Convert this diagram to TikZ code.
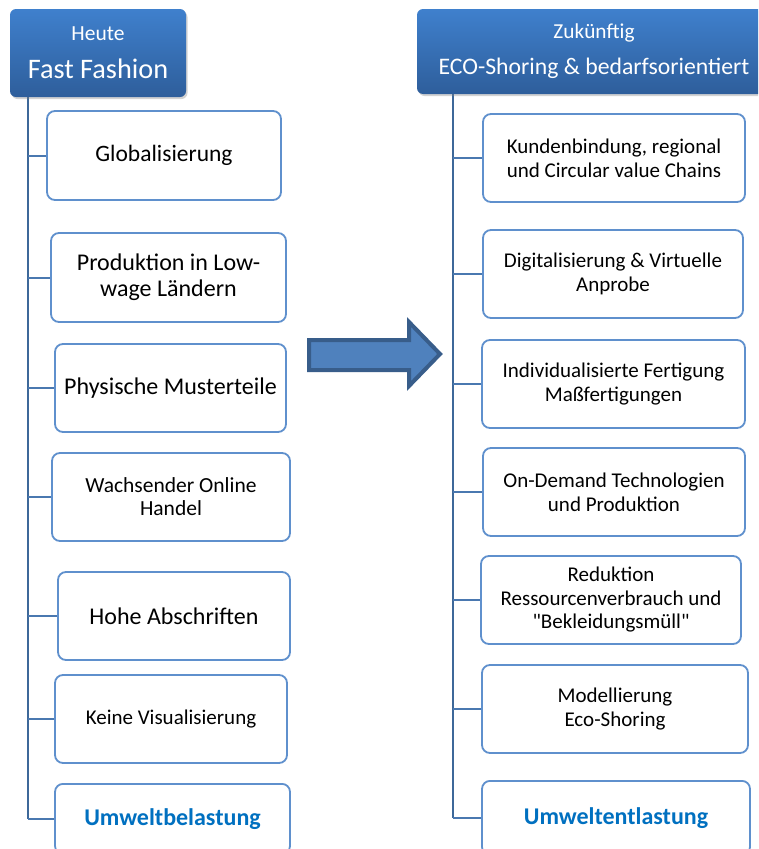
\documentclass[tikz,border=0pt]{standalone}
\usepackage{fontspec}
\setmainfont{Carlito}
% same family without the TeX quote mapping, for straight quotes
\newfontfamily\rawfont{Carlito}
\usetikzlibrary{shadows}
\definecolor{headtop}{HTML}{3F80CD}
\definecolor{headbot}{HTML}{2E5E9B}
\definecolor{boxline}{HTML}{5F90CD}
\definecolor{treeline}{HTML}{3D6899}
\definecolor{branchline}{HTML}{4A78B0}
\definecolor{arrowfill}{HTML}{4F81BD}
\definecolor{arrowline}{HTML}{385D8A}
\definecolor{accent}{HTML}{0070C0}
\tikzset{
  head/.style={rounded corners=6pt, top color=headtop, bottom color=headbot,
    text=white, align=center, inner sep=0pt,
    drop shadow={opacity=0.35, shadow xshift=1.5pt, shadow yshift=-2pt}},
  itembox/.style={draw=boxline, line width=1.8pt, rounded corners=8pt, fill=white,
    align=center, inner sep=0pt, text=black},
  trunk/.style={draw=treeline, line width=2.6pt},
  branch/.style={draw=branchline, line width=2pt},
  bigarrow/.style={fill=arrowfill, draw=arrowline, line width=4pt, line join=miter},
  f21/.style={font=\fontsize{21}{24}\selectfont},
  f24/.style={font=\fontsize{24}{26}\selectfont},
  endbox/.style={itembox, text=accent, font=\fontsize{24}{26}\selectfont\bfseries, anchor=north},
}
\begin{document}
\begin{tikzpicture}[x=1pt,y=-1pt]
\useasboundingbox (0,0) rectangle (758,849);
\clip (0,0) rectangle (758,849);
\fill[white] (0,0) rectangle (758,849);

% ---- left column: today ----
\coordinate (ltop) at (28,97);
\coordinate (rtop) at (453,94);

\node[itembox, minimum width=234pt, minimum height=89pt, font=\fontsize{23.5}{26}\selectfont] (l1) at (164,155.5) {Globalisierung};
\node[itembox, minimum width=235pt, minimum height=89pt, f24] (l2) at (168.5,277.5) {Produktion in Low-\\wage Ländern};
\node[itembox, minimum width=231pt, minimum height=88pt, f24] (l3) at (170.5,388) {Physische Musterteile};
\node[itembox, minimum width=238pt, minimum height=88pt, font=\fontsize{21.5}{23}\selectfont] (l4) at (171,497) {Wachsender Online\\Handel};
\node[itembox, minimum width=232pt, minimum height=88pt, f24] (l5) at (174,616) {Hohe Abschriften};
\node[itembox, minimum width=232pt, minimum height=88pt, f21] (l6) at (171,719) {Keine Visualisierung};
\node[endbox, minimum width=235pt, minimum height=70pt] (l7) at (172.5,783) {Umweltbelastung};

\draw[trunk] (ltop) -- (ltop |- l7.west);
\foreach \n in {l1,l2,l3,l4,l5,l6,l7}
  \draw[branch] (\n.west) -- (\n.west -| ltop);

\node[head, minimum width=176pt, minimum height=88pt, font=\fontsize{21.5}{38}\selectfont] (lh) at (98,53)
  {Heute\\{\fontsize{28.3}{38}\selectfont Fast Fashion}};

% ---- right column: future ----
\node[itembox, minimum width=262pt, minimum height=88pt, f21] (r1) at (614,158) {Kundenbindung, regional\\und Circular value Chains};
\node[itembox, minimum width=260pt, minimum height=88pt, f21] (r2) at (613,274) {Digitalisierung \& Virtuelle\\Anprobe};
\node[itembox, minimum width=263pt, minimum height=88pt, f21] (r3) at (613.5,384) {Individualisierte Fertigung\\Maßfertigungen};
\node[itembox, minimum width=262pt, minimum height=88pt, f21] (r4) at (614,492) {On-Demand Technologien\\und Produktion};
\node[itembox, minimum width=260pt, minimum height=88pt, font=\fontsize{21}{23.5}\selectfont] (r5) at (611,600) {Reduktion\\Ressourcenverbrauch und\\{\rawfont "}Bekleidungsmüll{\rawfont "}};
\node[itembox, minimum width=266pt, minimum height=88pt, f21] (r6) at (615,709) {Modellierung\\Eco-Shoring};
\node[endbox, minimum width=268pt, minimum height=74pt] (r7) at (616,780) {Umweltentlastung};

\draw[trunk] (rtop) -- (rtop |- r7.west);
\foreach \n in {r1,r2,r3,r4,r5,r6,r7}
  \draw[branch] (\n.west) -- (\n.west -| rtop);

\node[head, minimum width=354pt, minimum height=85pt, font=\fontsize{21.3}{36}\selectfont] (rh) at (594,51.5)
  {Zukünftig\\{\fontsize{23.7}{36}\selectfont ECO-Shoring \& bedarfsorientiert}};

% ---- transition arrow ----
\draw[bigarrow] (309,340) -- (409,340) -- (409,322) -- (440,354) -- (409,386)
  -- (409,370) -- (309,370) -- cycle;
\end{tikzpicture}
\end{document}
